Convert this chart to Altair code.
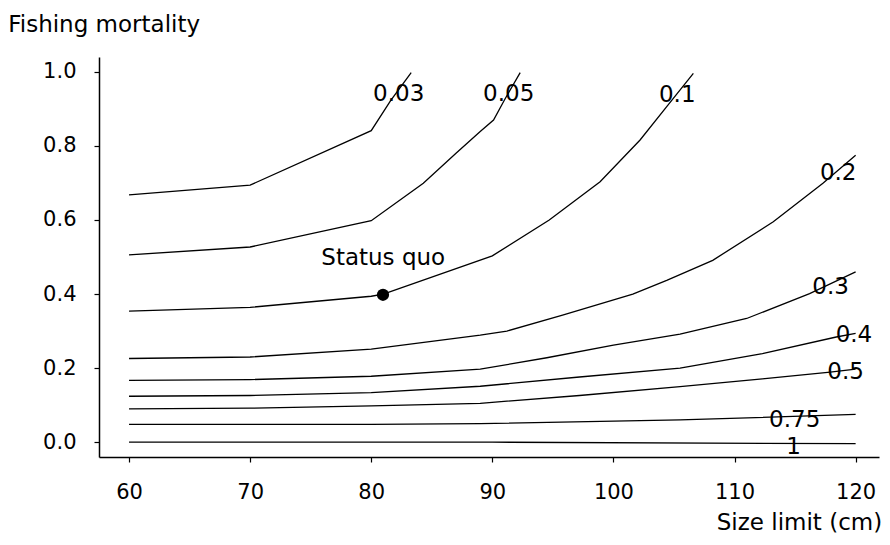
import altair as alt
import pandas as pd

# ---- data ----
curve_names = ["0.03", "0.05", "0.1", "0.2", "0.3", "0.4", "0.5", "0.75", "1"]

x_003 = [60, 70, 80, 81.6, 83.3]
y_003 = [0.668, 0.694, 0.841, 0.922, 0.998]

x_005 = [60, 70, 80, 84.3, 87.0, 89.0, 90.1, 91.0, 92.3]
y_005 = [0.506, 0.527, 0.598, 0.699, 0.780, 0.839, 0.870, 0.924, 0.998]

x_01 = [60, 70, 80, 81.0, 90.0, 94.7, 98.9, 102.2, 104.4, 106.6]
y_01 = [0.354, 0.364, 0.394, 0.400, 0.503, 0.600, 0.703, 0.816, 0.906, 0.996]

x_02 = [60, 70, 80, 89.0, 91.2, 95.8, 101.6, 104.4, 108.2, 113.2, 117.3, 120.0]
y_02 = [0.226, 0.230, 0.251, 0.289, 0.300, 0.343, 0.400, 0.437, 0.491, 0.595, 0.699, 0.775]

x_03 = [60, 70, 80, 89.0, 94.5, 100.0, 105.5, 111.0, 116.2, 120.0]
y_03 = [0.167, 0.169, 0.178, 0.197, 0.228, 0.262, 0.292, 0.334, 0.401, 0.460]

x_04 = [60, 70, 80, 89.0, 97.2, 105.5, 112.3, 118.4, 120.0]
y_04 = [0.124, 0.126, 0.134, 0.151, 0.176, 0.200, 0.239, 0.284, 0.294]

x_05 = [60, 70, 80, 89.0, 97.2, 105.5, 112.3, 117.9, 120.0]
y_05 = [0.090, 0.092, 0.098, 0.105, 0.126, 0.150, 0.171, 0.189, 0.197]

x_075 = [60, 70, 80, 89.0, 105.5, 120.0]
y_075 = [0.048, 0.048, 0.048, 0.050, 0.060, 0.075]

x_1 = [60, 90, 120]
y_1 = [0.0, 0.0, -0.004]

label_text = ["0.03", "0.05", "0.1", "0.2", "0.3", "0.4", "0.5", "0.75", "1", "Status quo"]
label_x = [82.27, 91.35, 105.27, 118.56, 117.93, 119.86, 119.17, 114.97, 114.87, 80.99]
label_y = [0.920, 0.920, 0.919, 0.708, 0.401, 0.270, 0.171, 0.041, -0.031, 0.479]

status_x = [80.97]
status_y = [0.398]

x_ticks = [60, 70, 80, 90, 100, 110, 120]
y_ticks = [0.0, 0.2, 0.4, 0.6, 0.8, 1.0]

# ---- build tables ----
xs = [x_003, x_005, x_01, x_02, x_03, x_04, x_05, x_075, x_1]
ys = [y_003, y_005, y_01, y_02, y_03, y_04, y_05, y_075, y_1]
rows = []
for name, cx, cy in zip(curve_names, xs, ys):
    for i, (a, b) in enumerate(zip(cx, cy)):
        rows.append({"curve": name, "x": a, "y": b, "i": i})
lines_df = pd.DataFrame(rows)
labels_df = pd.DataFrame({"t": label_text, "x": label_x, "y": label_y})
point_df = pd.DataFrame({"x": status_x, "y": status_y})

FONT = "DejaVu Sans"
xscale = alt.Scale(domain=[57.52, 121.93], nice=False, zero=False)
yscale = alt.Scale(domain=[-0.04, 1.04], nice=False, zero=False)

xaxis = alt.Axis(
    values=x_ticks, title="Size limit (cm)", grid=False,
    tickSize=5, tickColor="black", tickWidth=1.2,
    domainColor="black", domainWidth=1.5,
    labelFont=FONT, labelFontSize=21, labelColor="black", labelPadding=19,
    titleFont=FONT, titleFontSize=23, titleFontWeight="normal", titleColor="black",
    titleAlign="right", titleAnchor="end", titleBaseline="alphabetic",
    titleX=782.7, titleY=72.5,
)
yaxis = alt.Axis(
    values=y_ticks, format=".1f", title="Fishing mortality", grid=False,
    tickSize=5, tickColor="black", tickWidth=1.2,
    domainColor="black", domainWidth=1.5,
    labelFont=FONT, labelFontSize=21, labelColor="black", labelPadding=18,
    titleFont=FONT, titleFontSize=23, titleFontWeight="normal", titleColor="black",
    titleAngle=0, titleAlign="left", titleBaseline="alphabetic",
    titleX=-91.3, titleY=-25.3,
)

lines = alt.Chart(lines_df).mark_line(color="black", strokeWidth=1.3).encode(
    x=alt.X("x:Q", scale=xscale, axis=xaxis),
    y=alt.Y("y:Q", scale=yscale, axis=yaxis),
    detail="curve:N",
    order="i:Q",
)

texts = alt.Chart(labels_df).mark_text(
    font=FONT, fontSize=23, color="black", align="center", baseline="alphabetic"
).encode(
    x=alt.X("x:Q", scale=xscale),
    y=alt.Y("y:Q", scale=yscale),
    text="t:N",
)

point = alt.Chart(point_df).mark_circle(color="black", opacity=1, size=150).encode(
    x=alt.X("x:Q", scale=xscale),
    y=alt.Y("y:Q", scale=yscale),
)

chart = alt.layer(lines, texts, point).properties(
    width=780, height=400,
    autosize=alt.AutoSizeParams(type="none"),
    padding={"left": 91, "top": 49, "right": 3, "bottom": 78},
    background="white",
).configure_view(stroke=None)

chart.save("out.html", embed_options={"renderer": "svg", "actions": False})
